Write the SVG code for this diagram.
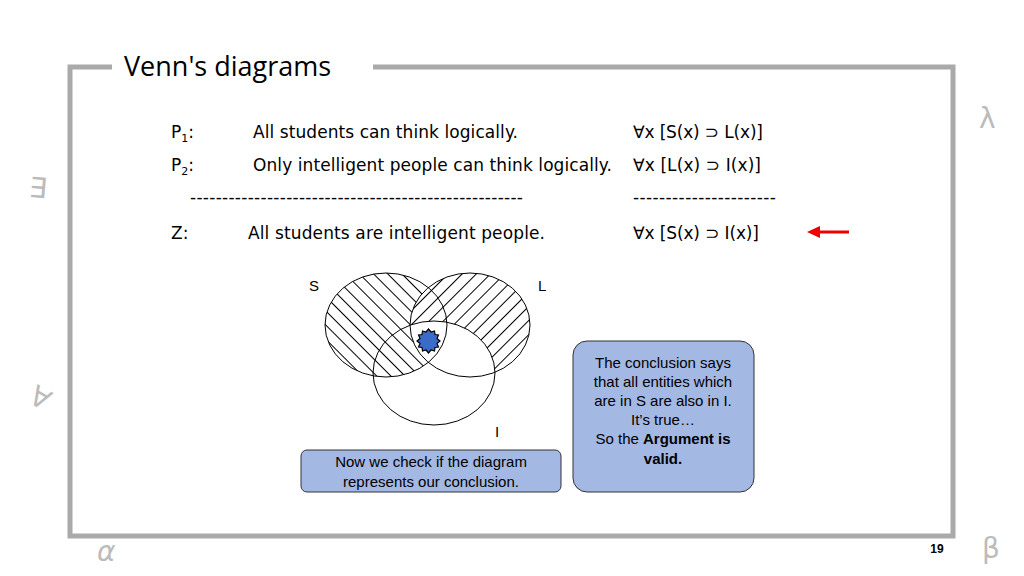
<svg xmlns="http://www.w3.org/2000/svg" width="1024" height="576" viewBox="0 0 1024 576">
<style>
.t{font-family:"DejaVu Sans","Noto Sans",sans-serif;font-size:17px;fill:#000}
.a{font-family:"Liberation Sans",Arial,sans-serif;font-size:15px;fill:#000}
.g{font-family:"DejaVu Sans",sans-serif;font-size:28px;fill:#bbb}
.box{fill:#a4b8e4;stroke:#333;stroke-width:1}
.hs{stroke:#000;stroke-width:2}
.c{fill:none;stroke:#000;stroke-width:1}
</style>
<defs>
<pattern id="pb" width="10" height="10" patternUnits="userSpaceOnUse" patternTransform="rotate(-45)"><line x1="0" y1="0" x2="0" y2="10" class="hs"/></pattern>
<pattern id="pf" width="10" height="10" patternUnits="userSpaceOnUse" patternTransform="rotate(45)"><line x1="0" y1="0" x2="0" y2="10" class="hs"/></pattern>
<mask id="mS"><ellipse cx="386" cy="325" rx="61" ry="52" fill="#fff"/><ellipse cx="470" cy="325" rx="60" ry="52" fill="#000"/></mask>
<mask id="mL"><ellipse cx="470" cy="325" rx="60" ry="52" fill="#fff"/><ellipse cx="434" cy="373" rx="61" ry="52" fill="#000"/></mask>
</defs>
<rect width="1024" height="576" fill="#fff"/>
<path d="M112 67 H70 V536 H953 V67 H373" fill="none" stroke="#aaa" stroke-width="5"/>
<text x="124" y="76" style="font-family:'Open Sans','Noto Sans',sans-serif;font-size:27px">Venn's diagrams</text>
<text x="979" y="128" class="g">λ</text>
<text x="38" y="188" class="g" transform="rotate(5 38 188)" text-anchor="middle" dominant-baseline="central">∃</text>
<text x="40" y="398" class="g" transform="rotate(30 40 398)" text-anchor="middle" dominant-baseline="central">∀</text>
<text x="97" y="561" class="g" font-style="italic">α</text>
<text x="982" y="558" class="g">β</text>
<text x="937" y="553" style="font-family:'Liberation Sans',sans-serif;font-size:12px;font-weight:bold" text-anchor="middle">19</text>
<g id="premises">
<text x="171" y="138" class="t">P<tspan font-size="11" dy="4">1</tspan><tspan dy="-4">:</tspan></text>
<text x="253" y="138" class="t" textLength="265">All students can think logically.</text>
<text x="633" y="138" class="t" textLength="130">∀x [S(x) ⊃ L(x)]</text>
<text x="171" y="171" class="t">P<tspan font-size="11" dy="4">2</tspan><tspan dy="-4">:</tspan></text>
<text x="253" y="171" class="t" textLength="359">Only intelligent people can think logically.</text>
<text x="633" y="171" class="t" textLength="128">∀x [L(x) ⊃ I(x)]</text>
<text x="190" y="203" class="t" textLength="333">----------------------------------------------------</text>
<text x="633" y="203" class="t" textLength="143">----------------------</text>
<text x="171" y="239" class="t">Z:</text>
<text x="248" y="239" class="t" textLength="297">All students are intelligent people.</text>
<text x="633" y="239" class="t" textLength="126">∀x [S(x) ⊃ I(x)]</text>
</g>
<g id="arrow"><line x1="849" y1="232" x2="818" y2="232" stroke="#e00" stroke-width="3"/><polygon points="807,232 820,226 820,238" fill="#e00"/></g>
<g id="venn">
<ellipse cx="386" cy="325" rx="61" ry="52" fill="url(#pb)" mask="url(#mS)"/>
<ellipse cx="470" cy="325" rx="60" ry="52" fill="url(#pf)" mask="url(#mL)"/>
<ellipse cx="386" cy="325" rx="61" ry="52" class="c"/>
<ellipse cx="470" cy="325" rx="60" ry="52" class="c"/>
<ellipse cx="434" cy="373" rx="61" ry="52" class="c"/>
<polygon fill="#3a6bc8" stroke="#000" stroke-width="1.2" points="440,341 437,343.5 438.5,347 435,347.5 434.5,351 431,350 428.5,353 426,350 422.5,351 422,347.5 418.5,347 420,343.5 417,341 420,338.5 418.5,335 422,334.5 422.5,331 426,332 428.5,329 431,332 434.5,331 435,334.5 438.5,335 437,338.5"/>
<text x="309" y="291" class="a" font-size="16">S</text>
<text x="538" y="291" class="a" font-size="16">L</text>
<text x="495" y="437" class="a" font-size="16">I</text>
</g>
<g id="note1"><rect x="301" y="450" width="260" height="42" rx="6" class="box"/>
<text x="431" y="467" class="a" text-anchor="middle">Now we check if the diagram</text>
<text x="431" y="487" class="a" text-anchor="middle">represents our conclusion.</text></g>
<g id="note2"><rect x="573" y="341" width="181" height="151" rx="14" class="box"/>
<text class="a" text-anchor="middle"><tspan x="663" y="368">The conclusion says</tspan><tspan x="663" y="387">that all entities which</tspan><tspan x="663" y="406">are in S are also in I.</tspan><tspan x="663" y="425">It’s true…</tspan><tspan x="663" y="444">So the <tspan font-weight="bold">Argument is</tspan></tspan><tspan x="663" y="464" font-weight="bold">valid.</tspan></text></g>
</svg>
